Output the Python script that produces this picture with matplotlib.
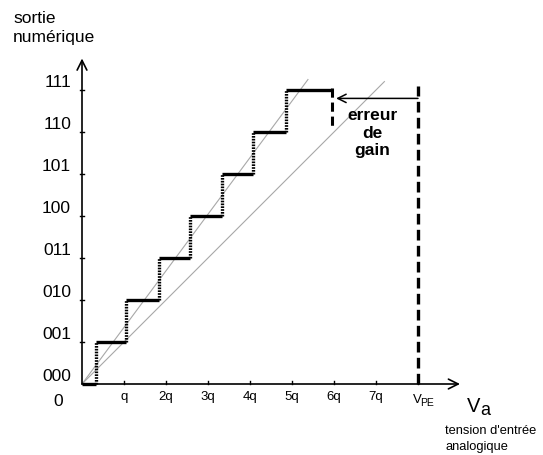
import matplotlib
matplotlib.use("Agg")
import matplotlib.pyplot as plt

plt.rcParams['font.family'] = ['Liberation Sans', 'DejaVu Sans']

# data (x in units of q, y in output codes)
y_codes = ["000", "001", "010", "011", "100", "101", "110", "111"]
x_labels = ["q", "2q", "3q", "4q", "5q", "6q", "7q"]
step_edges = [0.0, 0.33, 1.05, 1.83, 2.57, 3.33, 4.07, 4.86, 5.95]
ideal_line_x = [0.0, 7.2]
ideal_line_y = [0.0, 7.2]
real_line_x = [0.0, 5.38]
real_line_y = [0.0, 7.25]
vpe = 8.0

W, H = 543, 455
fig = plt.figure(figsize=(W / 100, H / 100), dpi=100)
ax = fig.add_axes([0, 0, 1, 1])
ox, oy, q = 82, 384, 42.0
ax.set_xlim(-ox / q, (W - ox) / q)
ax.set_ylim(-(H - oy) / q, oy / q)
ax.axis('off')


def px(x, y):
    return (x - ox) / q, (oy - y) / q


# axes with arrows
ax.annotate("", xy=(9.0, 0), xytext=(0, 0),
            arrowprops=dict(arrowstyle="->,head_length=0.7,head_width=0.35", lw=1.2, color='black',
                            shrinkA=0, shrinkB=0))
ax.annotate("", xy=(0, 7.75), xytext=(0, 0),
            arrowprops=dict(arrowstyle="->,head_length=0.7,head_width=0.35", lw=1.2, color='black',
                            shrinkA=0, shrinkB=0))

# ticks
for i in range(1, len(y_codes)):
    ax.plot([-0.05, 0.05], [i, i], color='black', lw=1)
for i in range(1, len(x_labels) + 2):
    ax.plot([i, i], [0, 0.08], color='black', lw=1)

# tick labels
for i, lab in enumerate(y_codes):
    ax.text(-0.26, i + 0.19, lab, ha='right', va='center', fontsize=12.5)
for i, lab in enumerate(x_labels):
    ax.text(i + 1, -0.3, lab, ha='center', va='center', fontsize=9.5)
ax.text(*px(413, 403), "V", ha='left', va='baseline', fontsize=9.5)
ax.text(*px(420.5, 406), "PE", ha='left', va='baseline', fontsize=7.5)
ax.text(*px(58, 402), "0", ha='center', va='center', fontsize=12.5)

# gray reference lines
ax.plot(ideal_line_x, ideal_line_y, color='#a8a8a8', lw=0.8)
ax.plot(real_line_x, real_line_y, color='#a8a8a8', lw=0.8)

# staircase
for k in range(len(y_codes)):
    ax.plot([step_edges[k], step_edges[k + 1]], [k, k], color='black', lw=2.4,
            solid_capstyle='butt')
    if k > 0:
        ax.plot([step_edges[k], step_edges[k]], [k - 1, k], color='black', lw=2.4,
                linestyle=(0, (0.5, 0.35)))

# end marker at last step
ax.plot([step_edges[-1], step_edges[-1]], [7.05, 6.1], color='black', lw=2.2,
        linestyle=(0, (3, 1.6)))

# full-scale dashed line
ax.plot([vpe, vpe], [0, 7.1], color='black', lw=2.4, linestyle=(0, (3.2, 1.6)))

# gain error arrow
ax.annotate("", xy=(6.05, 6.8), xytext=(vpe, 6.8),
            arrowprops=dict(arrowstyle="->,head_length=0.6,head_width=0.3", lw=1.1, color='black',
                            shrinkA=0, shrinkB=0))
ax.text(*px(372, 133), "erreur\nde\ngain", ha='center', va='center',
        fontsize=12.5, fontweight='bold', linespacing=1.2)

# axis titles
ax.text(*px(13, 28), "sortie\nnumérique", ha='left', va='center',
        fontsize=12.5, linespacing=1.3)
ax.text(*px(467, 412), "V", ha='left', va='baseline', fontsize=14.5)
ax.text(*px(480.5, 415), "a", ha='left', va='baseline', fontsize=13)
ax.text(*px(445, 439), "tension d'entrée\nanalogique", ha='left', va='center',
        fontsize=9.3, linespacing=1.45)

fig.savefig("out.png", dpi=100)
